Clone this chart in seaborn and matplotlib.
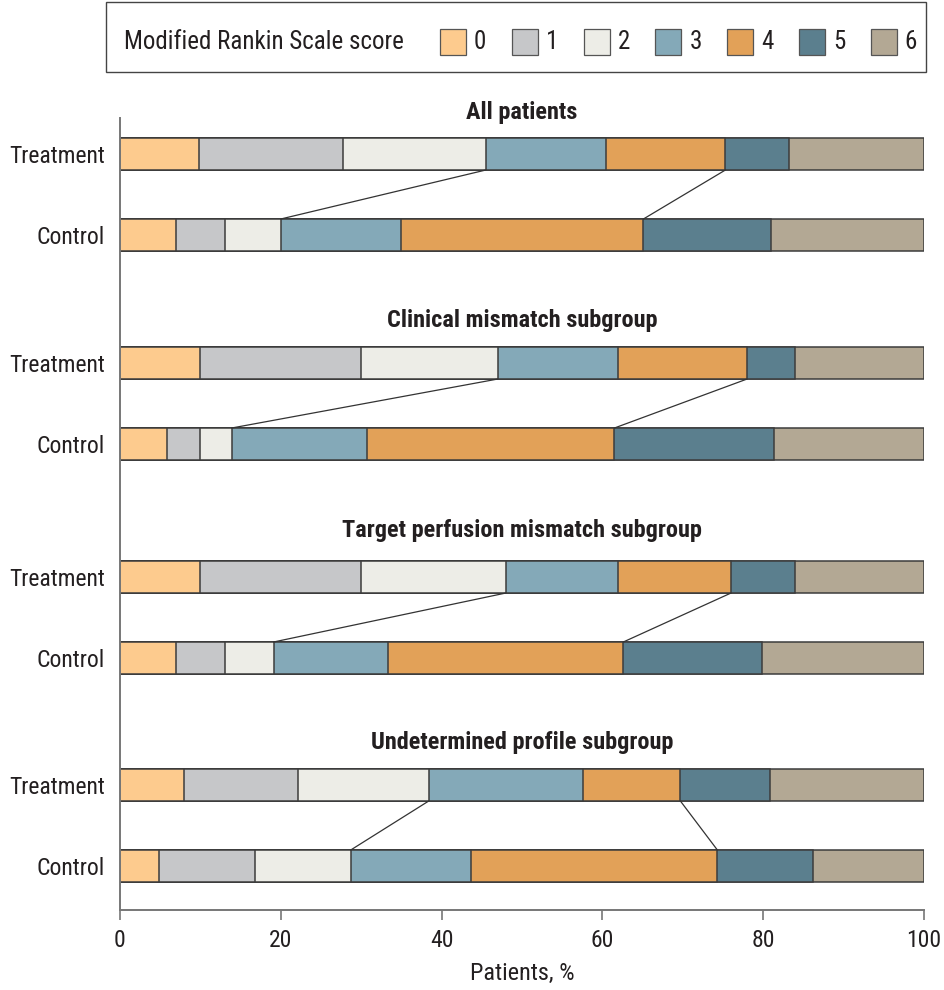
import numpy as np
import pandas as pd
import matplotlib
matplotlib.use("Agg")
import matplotlib.pyplot as plt
from matplotlib import font_manager as fm
from matplotlib.patches import Rectangle
import seaborn as sns

# Modified Rankin Scale distributions (% of patients per score 0..6)
scores = ["0", "1", "2", "3", "4", "5", "6"]
arms = ["Treatment", "Control"]
groups = ["All patients", "Clinical mismatch subgroup",
          "Target perfusion mismatch subgroup", "Undetermined profile subgroup"]

all_treatment = [9.8, 17.9, 17.8, 14.9, 14.9, 7.9, 16.8]
all_control = [7.0, 6.0, 7.0, 15.0, 30.1, 15.9, 19.0]
clinical_treatment = [10.0, 20.0, 17.0, 15.0, 16.0, 6.0, 16.0]
clinical_control = [5.9, 4.0, 4.0, 16.8, 30.8, 19.8, 18.7]
perfusion_treatment = [10.0, 20.0, 18.0, 14.0, 14.0, 8.0, 16.0]
perfusion_control = [7.0, 6.1, 6.0, 14.2, 29.3, 17.2, 20.2]
undetermined_treatment = [8.0, 14.2, 16.2, 19.2, 12.1, 11.2, 19.1]
undetermined_control = [4.9, 11.9, 11.9, 14.9, 30.7, 11.9, 13.8]

x_ticks = [0, 20, 40, 60, 80, 100]

palette = ["#FDCB8E", "#C6C7C9", "#EDEDE7", "#84A9B8",
           "#E2A158", "#5B7F8E", "#B3A894"]

# Layout: vertical row centres (axis units grow downward)
row_pos = [154, 235, 363, 444, 577, 658, 785, 866]
title_pos = [113, 320, 531, 742]
bar_height = 32

sns.set_theme(style="white")

# Prefer a narrow sans face when one is installed
installed = {f.name for f in fm.fontManager.ttflist}
stretch = "normal"
if "Roboto Condensed" in installed:
    family = "Roboto Condensed"
elif "Liberation Sans Narrow" in installed:
    family = "Liberation Sans Narrow"
elif any(f.name == "DejaVu Sans" and "condensed" in str(f.stretch)
         for f in fm.fontManager.ttflist):
    family = "DejaVu Sans"
    stretch = "condensed"
else:
    family = "Roboto"
plt.rcParams["font.family"] = [family, "DejaVu Sans"]
plt.rcParams["font.stretch"] = stretch
text_col = "#231f20"
fs = 17

rows = [all_treatment, all_control, clinical_treatment, clinical_control,
        perfusion_treatment, perfusion_control,
        undetermined_treatment, undetermined_control]

records = []
for pos, vals in zip(row_pos, rows):
    cum = np.cumsum(vals)
    for s, c in zip(scores, cum):
        records.append({"pos": pos, "score": s, "cum": c})
df = pd.DataFrame(records)

fig = plt.figure(figsize=(9.45, 9.9), dpi=100)
ax = fig.add_axes([120 / 945, (990 - 910) / 990, 804 / 945, (910 - 118) / 990])

# Stacked bars: draw cumulative totals from the largest score down
min_gap = np.min(np.diff(sorted(set(row_pos))))
sns.barplot(data=df, x="cum", y="pos", hue="score", hue_order=scores[::-1],
            palette=dict(zip(scores, palette)), orient="y", native_scale=True,
            dodge=False, width=bar_height / min_gap, errorbar=None,
            edgecolor="#3c3c3c", linewidth=1.1, legend=False, ax=ax,
            saturation=1)

# Connector lines between Treatment and Control for scores 0-2 and 0-4
for g in range(4):
    t_cum = np.cumsum(rows[2 * g])
    c_cum = np.cumsum(rows[2 * g + 1])
    y_t = row_pos[2 * g] + bar_height / 2
    y_c = row_pos[2 * g + 1] - bar_height / 2
    for k in (2, 4):
        ax.plot([t_cum[k], c_cum[k]], [y_t, y_c], color="#333333", lw=0.9,
                zorder=1)
    ax.text(50, title_pos[g], groups[g], ha="center", va="center",
            fontsize=fs + 0.5, fontweight="bold", color=text_col, clip_on=False)

ax.set_xlim(0, 100)
ax.set_ylim(910, 118)
ax.set_yticks(row_pos)
ax.set_yticklabels(arms * 4)
ax.set_ylabel("")
ax.set_xticks(x_ticks)
ax.set_xlabel("Patients, %", fontsize=fs + 0.5, color=text_col, labelpad=7)
ax.tick_params(axis="y", length=0, pad=11, labelsize=fs, labelcolor=text_col)
ax.tick_params(axis="x", length=7, width=1.2, color="#777777", pad=7,
               labelsize=fs, labelcolor=text_col, bottom=True)
for side in ("top", "right"):
    ax.spines[side].set_visible(False)
for side in ("left", "bottom"):
    ax.spines[side].set_color("#777777")
    ax.spines[side].set_linewidth(1.4)

# Legend box across the top of the figure
def fx(px):
    return px / 945

def fy(py):
    return 1 - py / 990

fig.patches.append(Rectangle((fx(106), fy(72)), fx(926) - fx(106), fy(2) - fy(72),
                             transform=fig.transFigure, facecolor="white",
                             edgecolor="#444444", linewidth=1.0))
fig.text(fx(124), fy(42), "Modified Rankin Scale score", ha="left", va="center",
         fontsize=fs + 1, color=text_col)
for i, (s, c) in enumerate(zip(scores, palette)):
    x0 = 440 + i * 71.8
    fig.patches.append(Rectangle((fx(x0), fy(55)), fx(26), 26 / 990,
                                 transform=fig.transFigure, facecolor=c,
                                 edgecolor="#555555", linewidth=0.9))
    fig.text(fx(x0 + 34), fy(42), s, ha="left", va="center", fontsize=fs + 1,
             color=text_col)

fig.savefig("out.png", dpi=100)
